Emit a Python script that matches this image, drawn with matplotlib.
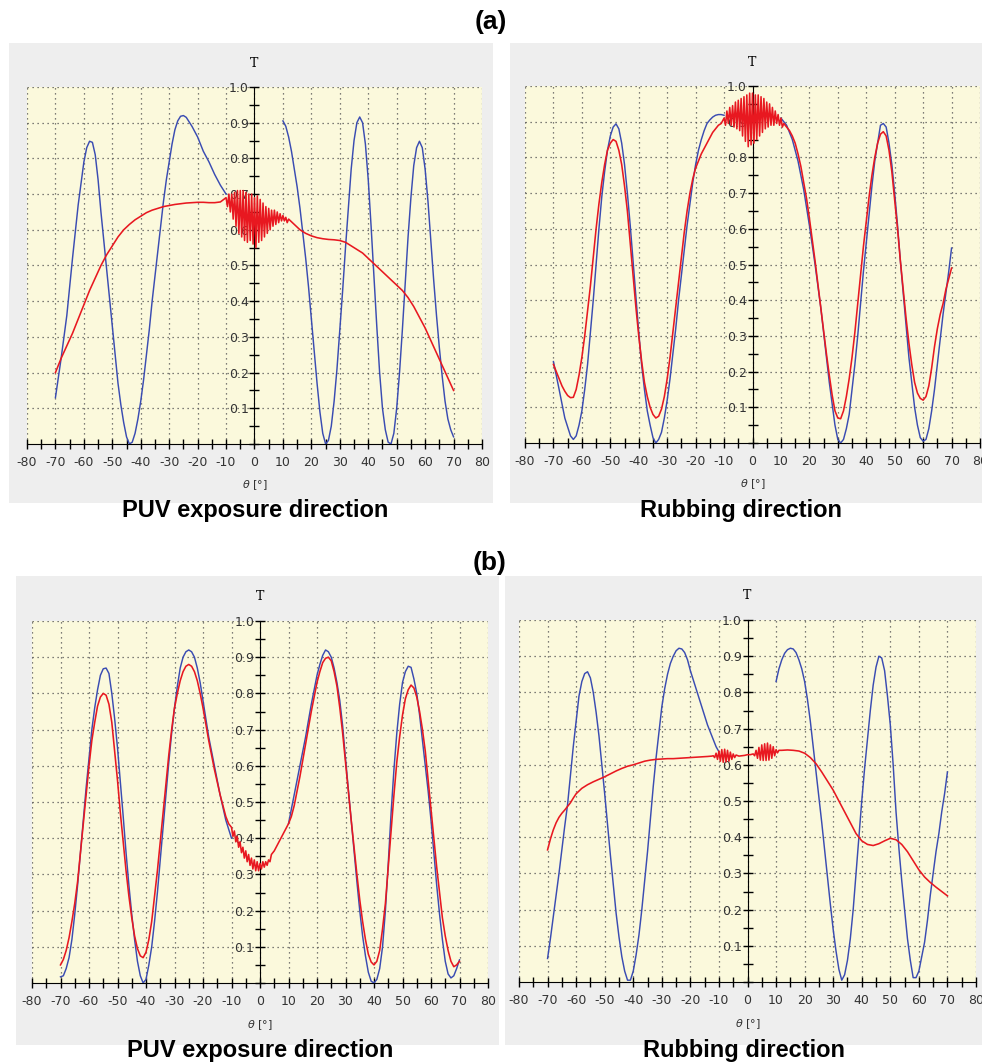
import numpy as np
import matplotlib.pyplot as plt
from matplotlib.patches import Rectangle
from matplotlib.ticker import MultipleLocator, FixedLocator, FormatStrFormatter

plt.rcParams['axes.unicode_minus'] = False

# --- (a) PUV exposure direction: (theta, T) ---
a_puv_blue_left = [(-70, 0.13), (-68, 0.24), (-66, 0.36), (-64, 0.52), (-62, 0.67), (-60, 0.79),
                   (-59, 0.83), (-58, 0.848), (-57, 0.845), (-56, 0.81), (-55, 0.74), (-54, 0.65),
                   (-53, 0.57), (-52, 0.49), (-51, 0.41), (-50, 0.33), (-49, 0.25), (-48, 0.17),
                   (-47, 0.11), (-46, 0.06), (-45, 0.02), (-44, 0.0), (-43, 0.005), (-42, 0.03),
                   (-41, 0.07), (-40, 0.12), (-39, 0.18), (-38, 0.25), (-37, 0.32), (-36, 0.40),
                   (-35, 0.47), (-34, 0.54), (-33, 0.61), (-32, 0.68), (-31, 0.74), (-30, 0.79),
                   (-29, 0.84), (-28, 0.88), (-27, 0.905), (-26, 0.918), (-25, 0.92), (-24, 0.915),
                   (-22, 0.89), (-20, 0.86), (-18, 0.82), (-16, 0.79), (-14, 0.755), (-12, 0.725),
                   (-10, 0.70)]
a_puv_blue_right = [(10, 0.905), (11, 0.89), (12, 0.86), (13, 0.82), (14, 0.77), (15, 0.72),
                    (16, 0.66), (17, 0.59), (18, 0.52), (19, 0.44), (20, 0.35), (21, 0.26),
                    (22, 0.17), (23, 0.09), (24, 0.03), (25, 0.0), (26, 0.01), (27, 0.05),
                    (28, 0.12), (29, 0.21), (30, 0.32), (31, 0.43), (32, 0.55), (33, 0.66),
                    (34, 0.77), (35, 0.85), (36, 0.9), (37, 0.916), (38, 0.90), (39, 0.84),
                    (40, 0.74), (41, 0.61), (42, 0.47), (43, 0.33), (44, 0.20), (45, 0.10),
                    (46, 0.04), (47, 0.005), (48, 0.0), (49, 0.03), (50, 0.10), (51, 0.20),
                    (52, 0.32), (53, 0.45), (54, 0.58), (55, 0.69), (56, 0.78), (57, 0.83),
                    (58, 0.848), (59, 0.83), (60, 0.77), (61, 0.68), (62, 0.57), (63, 0.46),
                    (64, 0.36), (65, 0.27), (66, 0.19), (67, 0.12), (68, 0.07), (69, 0.04),
                    (70, 0.02)]
a_puv_red = [(-70, 0.20), (-68, 0.24), (-66, 0.275), (-64, 0.31), (-62, 0.35), (-60, 0.39),
             (-58, 0.43), (-56, 0.465), (-54, 0.50), (-52, 0.53), (-50, 0.555), (-48, 0.58),
             (-46, 0.60), (-44, 0.615), (-42, 0.628), (-40, 0.638), (-38, 0.648), (-36, 0.655),
             (-34, 0.66), (-32, 0.665), (-30, 0.668), (-28, 0.671), (-26, 0.673), (-24, 0.675),
             (-22, 0.676), (-20, 0.677), (-18, 0.677), (-16, 0.676), (-14, 0.676), (-12, 0.678),
             (-10, 0.69), (-9.5, 0.665), (-9, 0.70), (-8.5, 0.65), (-8, 0.70), (-7.5, 0.63),
             (-7, 0.705), (-6.5, 0.61), (-6, 0.71), (-5.5, 0.59), (-5, 0.71), (-4.5, 0.58),
             (-4, 0.71), (-3.5, 0.57), (-3, 0.705), (-2.5, 0.565), (-2, 0.70), (-1.5, 0.57),
             (-1, 0.70), (-0.5, 0.56), (0, 0.69), (0.5, 0.55), (1, 0.695), (1.5, 0.565),
             (2, 0.685), (2.5, 0.57), (3, 0.675), (3.5, 0.58), (4, 0.665), (4.5, 0.59),
             (5, 0.66), (5.5, 0.60), (6, 0.655), (6.5, 0.61), (7, 0.655), (7.5, 0.615),
             (8, 0.65), (8.5, 0.62), (9, 0.645), (9.5, 0.625), (10, 0.64), (10.5, 0.625),
             (11, 0.635), (11.5, 0.62), (12, 0.63), (14, 0.615), (16, 0.60), (18, 0.59),
             (20, 0.583), (22, 0.578), (24, 0.575), (26, 0.573), (28, 0.572), (30, 0.57),
             (32, 0.565), (34, 0.555), (36, 0.545), (38, 0.535), (40, 0.52), (42, 0.505),
             (44, 0.49), (46, 0.475), (48, 0.46), (50, 0.445), (52, 0.43), (54, 0.41),
             (56, 0.385), (58, 0.355), (60, 0.325), (62, 0.29), (64, 0.255), (66, 0.22),
             (68, 0.185), (70, 0.15)]

# --- (a) Rubbing direction ---
a_rub_blue_left = [(-70, 0.228), (-68, 0.15), (-66, 0.07), (-64, 0.02), (-63, 0.01), (-62, 0.02),
                   (-61, 0.05), (-60, 0.09), (-59, 0.15), (-58, 0.22), (-57, 0.31), (-56, 0.40),
                   (-55, 0.50), (-54, 0.60), (-53, 0.69), (-52, 0.76), (-51, 0.82), (-50, 0.86),
                   (-49, 0.885), (-48, 0.894), (-47, 0.88), (-46, 0.84), (-45, 0.78), (-44, 0.70),
                   (-43, 0.61), (-42, 0.51), (-41, 0.41), (-40, 0.31), (-39, 0.22), (-38, 0.15),
                   (-37, 0.09), (-36, 0.05), (-35, 0.015), (-34, 0.0), (-33, 0.01), (-32, 0.03),
                   (-31, 0.07), (-30, 0.12), (-29, 0.18), (-28, 0.25), (-27, 0.32), (-26, 0.40),
                   (-25, 0.47), (-24, 0.54), (-23, 0.61), (-22, 0.67), (-21, 0.73), (-20, 0.78),
                   (-19, 0.82), (-18, 0.85), (-17, 0.875), (-16, 0.895), (-15, 0.905), (-14, 0.913),
                   (-13, 0.918), (-12, 0.92), (-11, 0.92), (-10, 0.918)]
a_rub_blue_right = [(10, 0.91), (11, 0.90), (12, 0.89), (13, 0.87), (14, 0.85), (15, 0.82),
                    (16, 0.79), (17, 0.75), (18, 0.71), (19, 0.66), (20, 0.61), (21, 0.555),
                    (22, 0.50), (23, 0.44), (24, 0.38), (25, 0.31), (26, 0.24), (27, 0.17),
                    (28, 0.11), (29, 0.05), (30, 0.01), (31, 0.0), (32, 0.01), (33, 0.04),
                    (34, 0.08), (35, 0.15), (36, 0.22), (37, 0.30), (38, 0.39), (39, 0.48),
                    (40, 0.56), (41, 0.64), (42, 0.72), (43, 0.79), (44, 0.84), (45, 0.89),
                    (46, 0.895), (47, 0.885), (48, 0.84), (49, 0.78), (50, 0.70), (51, 0.61),
                    (52, 0.51), (53, 0.42), (54, 0.33), (55, 0.24), (56, 0.17), (57, 0.10),
                    (58, 0.05), (59, 0.015), (60, 0.005), (61, 0.01), (62, 0.04), (63, 0.09),
                    (64, 0.15), (65, 0.22), (66, 0.29), (67, 0.36), (68, 0.42), (69, 0.48),
                    (70, 0.546)]
a_rub_red = [(-70, 0.22), (-69, 0.20), (-68, 0.18), (-67, 0.16), (-66, 0.145), (-65, 0.133),
             (-64, 0.127), (-63, 0.128), (-62, 0.15), (-61, 0.19), (-60, 0.24), (-59, 0.30),
             (-58, 0.37), (-57, 0.44), (-56, 0.52), (-55, 0.60), (-54, 0.67), (-53, 0.73),
             (-52, 0.78), (-51, 0.82), (-50, 0.84), (-49, 0.85), (-48, 0.845), (-47, 0.82),
             (-46, 0.78), (-45, 0.72), (-44, 0.65), (-43, 0.56), (-42, 0.47), (-41, 0.38),
             (-40, 0.30), (-39, 0.23), (-38, 0.17), (-37, 0.13), (-36, 0.10), (-35, 0.08),
             (-34, 0.07), (-33, 0.075), (-32, 0.095), (-31, 0.13), (-30, 0.18), (-29, 0.24),
             (-28, 0.31), (-27, 0.38), (-26, 0.45), (-25, 0.52), (-24, 0.59), (-23, 0.65),
             (-22, 0.70), (-21, 0.74), (-20, 0.77), (-19, 0.79), (-18, 0.81), (-17, 0.825),
             (-16, 0.84), (-15, 0.855), (-14, 0.87), (-13, 0.88), (-12, 0.89), (-11, 0.895),
             (-10, 0.91), (-9.5, 0.89), (-9, 0.93), (-8.5, 0.895), (-8, 0.94), (-7.5, 0.89),
             (-7, 0.945), (-6.5, 0.885), (-6, 0.955), (-5.5, 0.88), (-5, 0.96), (-4.5, 0.875),
             (-4, 0.965), (-3.5, 0.86), (-3, 0.97), (-2.5, 0.845), (-2, 0.975), (-1.5, 0.83),
             (-1, 0.98), (-0.5, 0.835), (0, 0.98), (0.5, 0.84), (1, 0.975), (1.5, 0.85),
             (2, 0.975), (2.5, 0.86), (3, 0.97), (3.5, 0.87), (4, 0.965), (4.5, 0.88),
             (5, 0.955), (5.5, 0.885), (6, 0.95), (6.5, 0.89), (7, 0.94), (7.5, 0.89),
             (8, 0.93), (8.5, 0.895), (9, 0.92), (9.5, 0.89), (10, 0.91), (10.5, 0.885),
             (11, 0.895), (12, 0.885), (13, 0.875), (14, 0.86), (15, 0.84), (16, 0.81),
             (17, 0.775), (18, 0.73), (19, 0.685), (20, 0.63), (21, 0.57), (22, 0.51),
             (23, 0.445), (24, 0.38), (25, 0.315), (26, 0.25), (27, 0.19), (28, 0.135),
             (29, 0.09), (30, 0.07), (31, 0.068), (32, 0.09), (33, 0.13), (34, 0.18),
             (35, 0.24), (36, 0.31), (37, 0.39), (38, 0.47), (39, 0.55), (40, 0.62),
             (41, 0.69), (42, 0.75), (43, 0.80), (44, 0.84), (45, 0.865), (46, 0.872),
             (47, 0.86), (48, 0.82), (49, 0.76), (50, 0.68), (51, 0.60), (52, 0.51),
             (53, 0.43), (54, 0.35), (55, 0.28), (56, 0.22), (57, 0.17), (58, 0.14),
             (59, 0.125), (60, 0.12), (61, 0.13), (62, 0.16), (63, 0.21), (64, 0.27),
             (65, 0.32), (66, 0.36), (67, 0.39), (68, 0.43), (69, 0.46), (70, 0.49)]

# --- (b) PUV exposure direction ---
b_puv_blue_left = [(-70, 0.017), (-69, 0.02), (-68, 0.04), (-67, 0.07), (-66, 0.12), (-65, 0.19),
                   (-64, 0.27), (-63, 0.36), (-62, 0.45), (-61, 0.54), (-60, 0.62), (-59, 0.70),
                   (-58, 0.76), (-57, 0.81), (-56, 0.85), (-55, 0.868), (-54, 0.87), (-53, 0.855),
                   (-52, 0.80), (-51, 0.73), (-50, 0.65), (-49, 0.555), (-48, 0.46), (-47, 0.36),
                   (-46, 0.27), (-45, 0.19), (-44, 0.12), (-43, 0.06), (-42, 0.02), (-41, 0.0),
                   (-40, 0.01), (-39, 0.05), (-38, 0.10), (-37, 0.17), (-36, 0.25), (-35, 0.34),
                   (-34, 0.43), (-33, 0.52), (-32, 0.61), (-31, 0.69), (-30, 0.76), (-29, 0.82),
                   (-28, 0.87), (-27, 0.90), (-26, 0.915), (-25, 0.92), (-24, 0.915), (-23, 0.90),
                   (-22, 0.87), (-21, 0.83), (-20, 0.78), (-19, 0.73), (-18, 0.68), (-17, 0.64),
                   (-16, 0.60), (-15, 0.56), (-14, 0.52), (-13, 0.485), (-12, 0.45), (-11, 0.425),
                   (-10, 0.40)]
b_puv_blue_right = [(10, 0.44), (11, 0.48), (12, 0.52), (13, 0.56), (14, 0.60), (15, 0.64),
                    (16, 0.68), (17, 0.725), (18, 0.77), (19, 0.81), (20, 0.85), (21, 0.88),
                    (22, 0.905), (23, 0.92), (24, 0.915), (25, 0.90), (26, 0.87), (27, 0.83),
                    (28, 0.78), (29, 0.71), (30, 0.62), (31, 0.535), (32, 0.45), (33, 0.365),
                    (34, 0.28), (35, 0.20), (36, 0.13), (37, 0.075), (38, 0.03), (39, 0.005),
                    (40, 0.0), (41, 0.01), (42, 0.04), (43, 0.10), (44, 0.20), (45, 0.33),
                    (46, 0.47), (47, 0.59), (48, 0.69), (49, 0.77), (50, 0.83), (51, 0.86),
                    (52, 0.875), (53, 0.872), (54, 0.84), (55, 0.80), (56, 0.74), (57, 0.67),
                    (58, 0.60), (59, 0.53), (60, 0.45), (61, 0.36), (62, 0.27), (63, 0.19),
                    (64, 0.12), (65, 0.06), (66, 0.025), (67, 0.014), (68, 0.02), (69, 0.04),
                    (70, 0.064)]
b_puv_red = [(-70, 0.05), (-69, 0.065), (-68, 0.09), (-67, 0.125), (-66, 0.17), (-65, 0.22),
             (-64, 0.28), (-63, 0.36), (-62, 0.44), (-61, 0.52), (-60, 0.60), (-59, 0.67),
             (-58, 0.72), (-57, 0.765), (-56, 0.79), (-55, 0.80), (-54, 0.795), (-53, 0.77),
             (-52, 0.72), (-51, 0.64), (-50, 0.56), (-49, 0.47), (-48, 0.39), (-47, 0.31),
             (-46, 0.24), (-45, 0.18), (-44, 0.13), (-43, 0.095), (-42, 0.075), (-41, 0.07),
             (-40, 0.085), (-39, 0.12), (-38, 0.17), (-37, 0.24), (-36, 0.31), (-35, 0.39),
             (-34, 0.47), (-33, 0.55), (-32, 0.63), (-31, 0.70), (-30, 0.76), (-29, 0.80),
             (-28, 0.835), (-27, 0.86), (-26, 0.875), (-25, 0.88), (-24, 0.875), (-23, 0.86),
             (-22, 0.835), (-21, 0.80), (-20, 0.76), (-19, 0.715), (-18, 0.67), (-17, 0.63),
             (-16, 0.59), (-15, 0.555), (-14, 0.52), (-13, 0.49), (-12, 0.46), (-11, 0.44),
             (-10, 0.43), (-9.5, 0.405), (-9, 0.42), (-8.5, 0.39), (-8, 0.405), (-7.5, 0.375),
             (-7, 0.39), (-6.5, 0.36), (-6, 0.375), (-5.5, 0.345), (-5, 0.365), (-4.5, 0.335),
             (-4, 0.355), (-3.5, 0.325), (-3, 0.345), (-2.5, 0.315), (-2, 0.34), (-1.5, 0.31),
             (-1, 0.335), (-0.5, 0.31), (0, 0.33), (0.5, 0.315), (1, 0.335), (1.5, 0.32),
             (2, 0.335), (2.5, 0.325), (3, 0.34), (3.5, 0.335), (4, 0.355), (5, 0.365),
             (6, 0.38), (7, 0.395), (8, 0.41), (9, 0.425), (10, 0.44), (11, 0.46),
             (12, 0.49), (13, 0.53), (14, 0.57), (15, 0.615), (16, 0.66), (17, 0.705),
             (18, 0.75), (19, 0.79), (20, 0.83), (21, 0.86), (22, 0.885), (23, 0.897),
             (24, 0.90), (25, 0.89), (26, 0.86), (27, 0.82), (28, 0.76), (29, 0.69),
             (30, 0.61), (31, 0.53), (32, 0.45), (33, 0.375), (34, 0.30), (35, 0.23),
             (36, 0.17), (37, 0.12), (38, 0.08), (39, 0.058), (40, 0.05), (41, 0.06),
             (42, 0.09), (43, 0.15), (44, 0.22), (45, 0.32), (46, 0.42), (47, 0.52),
             (48, 0.61), (49, 0.68), (50, 0.74), (51, 0.785), (52, 0.81), (53, 0.823),
             (54, 0.815), (55, 0.79), (56, 0.75), (57, 0.70), (58, 0.64), (59, 0.56),
             (60, 0.48), (61, 0.40), (62, 0.32), (63, 0.25), (64, 0.18), (65, 0.13),
             (66, 0.09), (67, 0.06), (68, 0.045), (69, 0.05), (70, 0.06)]

# --- (b) Rubbing direction ---
b_rub_blue_left = [(-70, 0.065), (-69, 0.12), (-68, 0.18), (-67, 0.24), (-66, 0.30), (-65, 0.365),
                   (-64, 0.43), (-63, 0.49), (-62, 0.57), (-61, 0.65), (-60, 0.72), (-59, 0.79),
                   (-58, 0.83), (-57, 0.852), (-56, 0.857), (-55, 0.84), (-54, 0.80), (-53, 0.745),
                   (-52, 0.68), (-51, 0.60), (-50, 0.52), (-49, 0.435), (-48, 0.35), (-47, 0.27),
                   (-46, 0.19), (-45, 0.125), (-44, 0.07), (-43, 0.03), (-42, 0.005), (-41, 0.005),
                   (-40, 0.03), (-39, 0.075), (-38, 0.13), (-37, 0.20), (-36, 0.28), (-35, 0.36),
                   (-34, 0.45), (-33, 0.54), (-32, 0.62), (-31, 0.69), (-30, 0.76), (-29, 0.81),
                   (-28, 0.85), (-27, 0.88), (-26, 0.90), (-25, 0.915), (-24, 0.922), (-23, 0.92),
                   (-22, 0.91), (-21, 0.89), (-20, 0.86), (-19, 0.835), (-18, 0.81), (-17, 0.785),
                   (-16, 0.76), (-15, 0.735), (-14, 0.71), (-13, 0.69), (-12, 0.67), (-11, 0.65),
                   (-10, 0.636)]
b_rub_blue_right = [(10, 0.83), (11, 0.865), (12, 0.89), (13, 0.908), (14, 0.918), (15, 0.922),
                    (16, 0.92), (17, 0.91), (18, 0.89), (19, 0.865), (20, 0.83), (21, 0.78),
                    (22, 0.72), (23, 0.65), (24, 0.58), (25, 0.51), (26, 0.44), (27, 0.365),
                    (28, 0.29), (29, 0.215), (30, 0.145), (31, 0.085), (32, 0.035), (33, 0.005),
                    (34, 0.02), (35, 0.06), (36, 0.12), (37, 0.20), (38, 0.30), (39, 0.40),
                    (40, 0.50), (41, 0.59), (42, 0.67), (43, 0.75), (44, 0.82), (45, 0.87),
                    (46, 0.90), (47, 0.895), (48, 0.86), (49, 0.79), (50, 0.71), (51, 0.60),
                    (52, 0.47), (53, 0.37), (54, 0.28), (55, 0.20), (56, 0.12), (57, 0.06),
                    (58, 0.012), (59, 0.012), (60, 0.03), (61, 0.07), (62, 0.11), (63, 0.17),
                    (64, 0.24), (65, 0.30), (66, 0.36), (67, 0.41), (68, 0.47), (69, 0.52),
                    (70, 0.58)]
b_rub_red = [(-70, 0.365), (-69, 0.395), (-68, 0.42), (-67, 0.44), (-66, 0.455), (-65, 0.466),
             (-64, 0.475), (-63, 0.485), (-62, 0.495), (-61, 0.508), (-60, 0.52), (-58, 0.535),
             (-56, 0.545), (-54, 0.553), (-52, 0.56), (-50, 0.567), (-48, 0.575), (-46, 0.583),
             (-44, 0.59), (-42, 0.596), (-40, 0.60), (-38, 0.605), (-36, 0.61), (-34, 0.613),
             (-32, 0.615), (-30, 0.616), (-28, 0.617), (-26, 0.617), (-24, 0.618), (-22, 0.619),
             (-20, 0.62), (-18, 0.621), (-16, 0.622), (-14, 0.623), (-12.5, 0.624),
             (-12, 0.625), (-11.5, 0.62), (-11, 0.632), (-10.5, 0.615), (-10, 0.638),
             (-9.5, 0.61), (-9, 0.642), (-8.5, 0.607), (-8, 0.643), (-7.5, 0.608), (-7, 0.64),
             (-6.5, 0.61), (-6, 0.635), (-5.5, 0.615), (-5, 0.63), (-4.5, 0.62), (-4, 0.627),
             (-3, 0.624), (-2, 0.625), (-1, 0.626), (0, 0.628), (1, 0.628), (2, 0.63),
             (2.5, 0.625), (3, 0.64), (3.5, 0.618), (4, 0.648), (4.5, 0.613), (5, 0.655),
             (5.5, 0.612), (6, 0.658), (6.5, 0.612), (7, 0.66), (7.5, 0.613), (8, 0.655),
             (8.5, 0.618), (9, 0.65), (9.5, 0.625), (10, 0.642), (10.5, 0.633), (11, 0.64),
             (12, 0.64), (14, 0.641), (16, 0.64), (18, 0.638), (20, 0.632), (22, 0.62),
             (24, 0.603), (26, 0.58), (28, 0.555), (30, 0.53), (32, 0.50), (34, 0.47),
             (36, 0.44), (38, 0.41), (40, 0.39), (42, 0.38), (44, 0.377), (46, 0.382),
             (48, 0.39), (50, 0.397), (52, 0.393), (54, 0.38), (56, 0.36), (58, 0.335),
             (60, 0.31), (62, 0.29), (64, 0.275), (66, 0.262), (68, 0.25), (70, 0.238)]

y_ticks = [0.1, 0.2, 0.3, 0.4, 0.5, 0.6, 0.7, 0.8, 0.9, 1.0]

W, H = 982, 1062
BLUE = '#3a4cb2'
RED = '#e81820'
YELLOW = '#fbf9dc'
GREY = '#eeeeee'
TICK_FONT = ['DejaVu Sans Condensed', 'Liberation Sans Narrow', 'DejaVu Sans']

fig = plt.figure(figsize=(W / 100, H / 100), dpi=100)


def fig_box(x0, y0, x1, y1):
    # pixel box (top-left origin) -> figure fraction [left, bottom, width, height]
    return [x0 / W, 1 - y1 / H, (x1 - x0) / W, (y1 - y0) / H]


def draw_panel(ax_px, bg_px, blue_parts, red, title, title_px):
    l, b, w, h = fig_box(*bg_px)
    fig.patches.append(Rectangle((l, b), w, h, transform=fig.transFigure,
                                 facecolor=GREY, edgecolor='none', zorder=-5))
    ax = fig.add_axes(fig_box(*ax_px))
    ax.set_zorder(1)
    ax.set_facecolor(YELLOW)
    ax.set_xlim(-80, 80)
    ax.set_ylim(0, 1.0)
    ax.spines['top'].set_visible(False)
    ax.spines['right'].set_visible(False)
    ax.spines['left'].set_position(('data', 0))
    ax.spines['bottom'].set_position(('data', 0))
    ax.xaxis.set_major_locator(MultipleLocator(10))
    ax.xaxis.set_minor_locator(MultipleLocator(5))
    ax.xaxis.set_major_formatter(FormatStrFormatter('%d'))
    ax.yaxis.set_major_locator(FixedLocator(y_ticks))
    ax.yaxis.set_minor_locator(MultipleLocator(0.05))
    ax.yaxis.set_major_formatter(FormatStrFormatter('%.1f'))
    ax.tick_params(which='both', direction='inout', length=7, width=1, colors='black',
                   labelcolor='#333333', labelsize=9)
    ax.tick_params(axis='x', pad=5)
    ax.tick_params(axis='y', pad=0.5)
    for lab in ax.get_xticklabels() + ax.get_yticklabels():
        lab.set_family(TICK_FONT)
    ax.grid(True, which='major', color='#555555', linestyle=(0, (1, 3)), linewidth=0.9)

    for part in blue_parts:
        bx, by = zip(*part)
        ax.plot(bx, by, color=BLUE, linewidth=1.05, zorder=3)
    rx, ry = zip(*red)
    ax.plot(rx, ry, color=RED, linewidth=1.15, zorder=4)

    ax.text(0, 1.067, 'T', transform=ax.get_xaxis_transform(), ha='center', va='center',
            family='DejaVu Serif', fontsize=9)
    ax.text(0, -0.115, r'$\theta$ [°]', transform=ax.get_xaxis_transform(), ha='center',
            va='center', fontsize=8, color='#333333')
    fig.text(title_px[0] / W, 1 - title_px[1] / H, title, ha='center', va='center',
             fontsize=17, fontweight='bold', family='Liberation Sans', zorder=5)
    return ax


draw_panel((27, 87, 482, 444), (9, 43, 493, 503),
           [a_puv_blue_left, a_puv_blue_right], a_puv_red,
           'PUV exposure direction', (255, 511))
draw_panel((525, 86, 980, 443), (510, 43, 982, 503),
           [a_rub_blue_left, a_rub_blue_right], a_rub_red,
           'Rubbing direction', (741, 511))
draw_panel((32, 621, 488, 983), (16, 576, 499, 1045),
           [b_puv_blue_left, b_puv_blue_right], b_puv_red,
           'PUV exposure direction', (260, 1050))
draw_panel((519, 620, 976, 982), (505, 576, 982, 1045),
           [b_rub_blue_left, b_rub_blue_right], b_rub_red,
           'Rubbing direction', (744, 1050))

fig.text(491 / W, 1 - 22 / H, '(a)', ha='center', va='center', fontsize=19,
         fontweight='bold', family='Liberation Sans')
fig.text(490 / W, 1 - 563 / H, '(b)', ha='center', va='center', fontsize=19,
         fontweight='bold', family='Liberation Sans')

fig.savefig('out.png', dpi=100)
